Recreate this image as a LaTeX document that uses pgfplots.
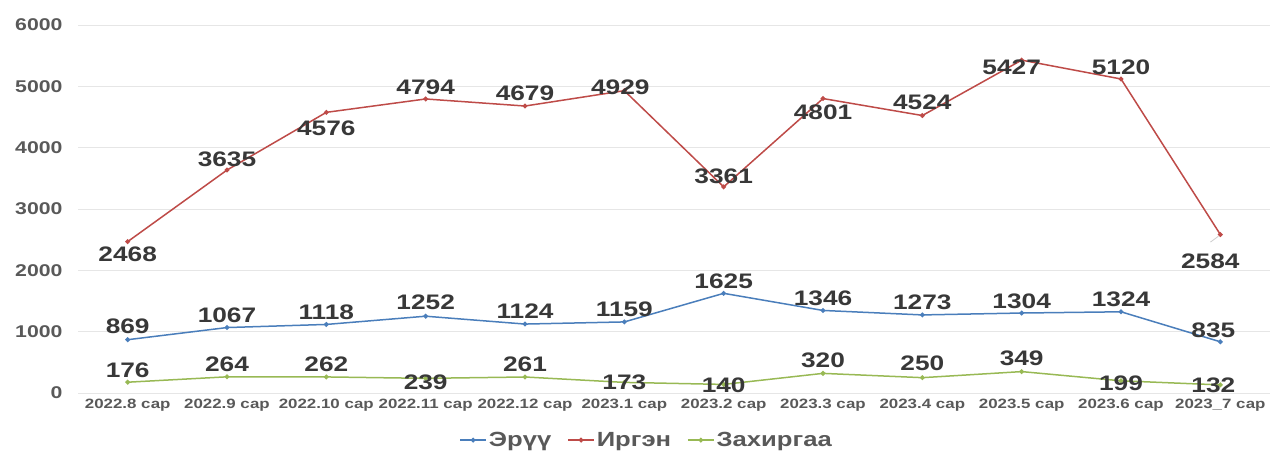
\documentclass[border=0pt]{standalone}
\usepackage{pgfplots}
\pgfplotsset{compat=1.18}
\usepackage{pgfplotstable}
\usepackage{fontspec}
\setmainfont{Liberation Sans}[FakeStretch=1.25]
\definecolor{cblue}{HTML}{4A7EBB}
\definecolor{cred}{HTML}{BE4B48}
\definecolor{cgreen}{HTML}{98B954}
\definecolor{labc}{HTML}{383838}
\definecolor{tickc}{HTML}{595959}
\definecolor{gridc}{HTML}{E6E6E6}

\pgfplotstableread{
x y dx dy
0 869 0 13
1 1067 0 12
2 1118 0 12
3 1252 0 14
4 1124 0 13
5 1159 0 13
6 1625 0 12
7 1346 0 12
8 1273 0 13
9 1304 0 12
10 1324 0 13
11 835 -7 12
}\eruu
\pgfplotstableread{
x y dx dy
0 2468 0 -13
1 3635 0 11
2 4576 0 -16
3 4794 0 12
4 4679 0 13
5 4929 -4 3
6 3361 0 11
7 4801 0 -14
8 4524 0 13
9 5427 -10 -7
10 5120 0 12
11 2584 -10 -27
}\irgen
\pgfplotstableread{
x y dx dy
0 176 0 12
1 264 0 13
2 262 0 13
3 239 0 -4
4 261 0 13
5 173 0 0
6 140 0 -1
7 320 0 13
8 250 0 14
9 349 0 13
10 199 0 -2
11 132 -7 0
}\zakh

\begin{document}
\begin{tikzpicture}
\useasboundingbox (-78pt,-60pt) rectangle (1198pt,393pt);
\begin{axis}[
  at={(0pt,0pt)}, anchor=south west,
  scale only axis, width=1192pt, height=368pt,
  xmin=-0.5, xmax=11.5, ymin=0, ymax=6000,
  xtick={0,...,11},
  xticklabels={2022.8 сар,2022.9 сар,2022.10 сар,2022.11 сар,2022.12 сар,2023.1 сар,2023.2 сар,2023.3 сар,2023.4 сар,2023.5 сар,2023.6 сар,2023\_7 сар},
  ytick={0,1000,...,6000},
  ymajorgrids, grid style={gridc, line width=0.8pt},
  axis line style={draw=none},
  major tick length=0pt,
  /pgf/number format/assume math mode=true,
  /pgf/number format/1000 sep={},
  x tick label style={font=\fontsize{13.5}{15}\selectfont\bfseries, text=tickc, yshift=-3pt},
  y tick label style={font=\fontsize{17}{18}\selectfont\bfseries, text=tickc, xshift=-12pt},
  legend style={at={(0.477,-0.128)}, anchor=center, draw=none, fill=none,
    font=\fontsize{20.5}{22}\selectfont\bfseries, text=tickc, legend columns=3,
    /tikz/every even column/.append style={column sep=14pt}},
  legend image code/.code={%
    \draw[#1, mark=none] (0pt,0pt) -- (26pt,0pt);
    \fill[#1] (13pt,0pt) circle (1.6pt);},
  nodes near coords={\pgfmathprintnumber[fixed,precision=0]{\pgfplotspointmeta}},
  point meta=y,
  visualization depends on={\thisrow{dx} \as \dx},
  visualization depends on={\thisrow{dy} \as \dy},
  nodes near coords style={anchor=center, xshift=\dx pt, yshift=\dy pt,
    font=\fontsize{21}{23}\selectfont\bfseries, text=labc, inner sep=0pt},
]
\addplot[cblue, line width=1.5pt, mark=*, mark size=1.6pt] table[x=x,y=y] {\eruu};
\addlegendentry{Эрүү}
\addplot[cred, line width=1.5pt, mark=*, mark size=1.6pt] table[x=x,y=y] {\irgen};
\addlegendentry{Иргэн}
\addplot[cgreen, line width=1.5pt, mark=*, mark size=1.6pt] table[x=x,y=y] {\zakh};
\addlegendentry{Захиргаа}
\draw[gray!40, line width=0.8pt] (axis cs:10.9,2460) -- (axis cs:10.98,2555);
\end{axis}
\end{tikzpicture}
\end{document}
